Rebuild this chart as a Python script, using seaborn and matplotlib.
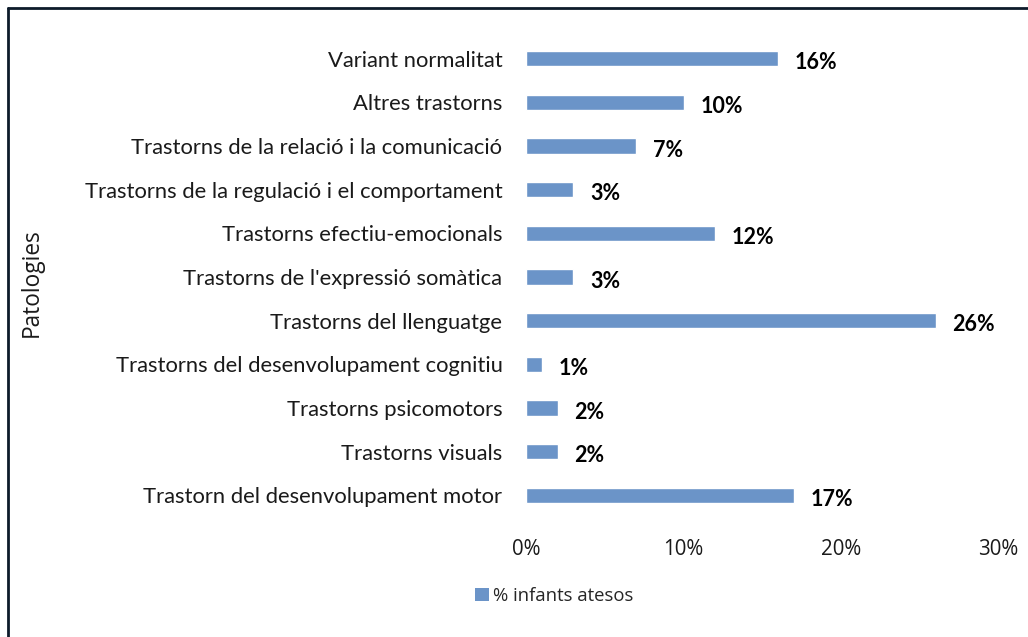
import pandas as pd
import numpy as np
import matplotlib.pyplot as plt
import seaborn as sns
from matplotlib.lines import Line2D
from matplotlib.patches import Patch

categories = ['Variant normalitat', 'Altres trastorns',
              'Trastorns de la relació i la comunicació',
              'Trastorns de la regulació i el comportament',
              'Trastorns efectiu-emocionals',
              "Trastorns de l'expressió somàtica",
              'Trastorns del llenguatge',
              'Trastorns del desenvolupament cognitiu',
              'Trastorns psicomotors', 'Trastorns visuals',
              'Trastorn del desenvolupament motor']
values = [0.16, 0.10, 0.07, 0.03, 0.12, 0.03, 0.26, 0.01, 0.02, 0.02, 0.17]
value_labels = ['16%', '10%', '7%', '3%', '12%', '3%', '26%', '1%', '2%', '2%', '17%']
x_ticks = [0, 0.10, 0.20, 0.30]
x_tick_labels = ['0%', '10%', '20%', '30%']
series_name = '% infants atesos'
axis_title = 'Patologies'

df = pd.DataFrame({'cat': categories, 'val': values})

sns.set_style('white')
plt.rcParams['font.family'] = ['Lato', 'DejaVu Sans']
bar_color = '#6b94c8'
txt = '#1a1a1a'

fig = plt.figure(figsize=(10.28, 6.37), dpi=100)
ax = fig.add_axes([526/1028, 1 - 517/637, (998.5 - 526)/1028, (517 - 37)/637])

sns.barplot(data=df, x='val', y='cat', orient='h', color=bar_color,
            width=0.35, ax=ax, saturation=1)

ax.set_xlim(0, 0.30)
ax.set_ylim(10.5, -0.5)
ax.set_xticks(x_ticks)
ax.set_xticklabels(x_tick_labels, fontsize=14.8, color=txt, family='Open Sans')
ax.tick_params(axis='x', length=0, pad=16)
ax.tick_params(axis='y', length=0, pad=17, labelsize=15.8, labelcolor=txt)
ax.set_xlabel('')
ax.set_ylabel(axis_title, fontsize=16.3, color=txt, family='Open Sans')
ax.yaxis.set_label_coords(44/1028, 1 - 283/637, transform=fig.transFigure)
for s in ax.spines.values():
    s.set_visible(False)

labs = ax.bar_label(ax.containers[0], labels=value_labels, padding=12,
                    fontsize=15.5, fontweight='bold', color='black')
for t in labs:
    t.xyann = (12, -3)

fig.legend(handles=[Patch(facecolor=bar_color, edgecolor='none')],
           labels=[series_name], loc='center left',
           bbox_to_anchor=(468/1028, 1 - 596/637), frameon=False,
           prop={'family': 'Open Sans', 'size': 13.3},
           handlelength=0.75, handleheight=0.75,
           handletextpad=0.2, borderaxespad=0)

# frame of the chart area (cropped at right and bottom)
fig.add_artist(Line2D([8/1028, 1], [1 - 8/637, 1 - 8/637], color='#0d1b2a', lw=2,
                      transform=fig.transFigure))
fig.add_artist(Line2D([8/1028, 8/1028], [0, 1 - 8/637], color='#0d1b2a', lw=2,
                      transform=fig.transFigure))

fig.savefig('out.png', dpi=100)
